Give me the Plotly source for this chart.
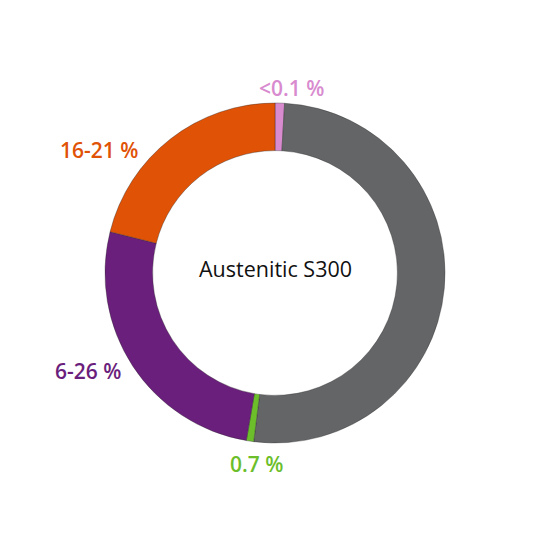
import plotly.graph_objects as go

segments = ["pink", "grey", "green", "purple", "orange"]
values = [0.9, 51.1, 0.7, 26.2, 21.1]
colors = ["#D98BCF", "#646567", "#6CBE2B", "#6B1F7C", "#E05206"]

label_texts = ["<0.1 %", "16-21 %", "6-26 %", "0.7 %"]
label_colors = ["#D98BCF", "#E05206", "#6B1F7C", "#6CBE2B"]
label_px = [(291, 88), (99, 150), (88, 371), (256, 464)]

center_text = "Austenitic S300"

W = H = 550
cx, cy, R = 275, 273, 170

fig = go.Figure(go.Pie(
    labels=segments,
    values=values,
    marker=dict(colors=colors, line=dict(color="rgba(40,40,40,0.6)", width=0.6)),
    hole=0.72,
    sort=False,
    direction="clockwise",
    rotation=0,
    textinfo="none",
    hoverinfo="skip",
    showlegend=False,
    domain=dict(x=[(cx - R) / W, (cx + R) / W], y=[(H - cy - R) / H, (H - cy + R) / H]),
))

annotations = []
for t, c, (x, y) in zip(label_texts, label_colors, label_px):
    annotations.append(dict(
        x=x / W, y=1 - y / H, xref="paper", yref="paper", text=t, showarrow=False,
        xanchor="center", yanchor="middle",
        font=dict(family="Open Sans", size=21, color=c, weight=600),
    ))
annotations.append(dict(
    x=cx / W, y=1 - 268 / H, xref="paper", yref="paper", text=center_text, showarrow=False,
    xanchor="center", yanchor="middle",
    font=dict(family="Open Sans", size=21.5, color="#111111"),
))

fig.update_layout(
    width=W, height=H, margin=dict(l=0, r=0, t=0, b=0),
    paper_bgcolor="white", plot_bgcolor="white",
    annotations=annotations,
)
fig.write_html("out.html")
